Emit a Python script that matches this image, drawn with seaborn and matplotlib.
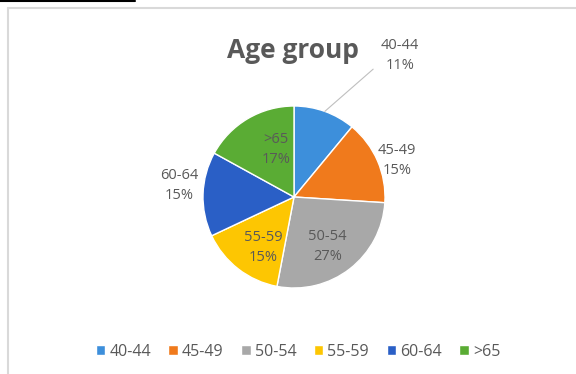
import numpy as np
import matplotlib
matplotlib.use("Agg")
import matplotlib.pyplot as plt
from matplotlib.lines import Line2D
import seaborn as sns

groups = ["40-44", "45-49", "50-54", "55-59", "60-64", ">65"]
shares = [11, 15, 27, 15, 15, 17]
colors = ["#3d8fdb", "#f07a1c", "#a8a8a8", "#fdc602", "#2a5fc6", "#5aac34"]

# label placement per slice: (radius factor, angle tweak in degrees)
label_pos = [(1.94, -17), (1.2, -4), (0.66, -4), (0.65, 6), (1.27, -4), (0.56, -10)]

sns.set_style("white")
plt.rcParams["font.family"] = ["Open Sans", "DejaVu Sans"]
text_color = "#595959"

W, H = 576, 374
fig = plt.figure(figsize=(W / 100, H / 100), dpi=100)

cx, cy, r = 294, 197, 91
ax = fig.add_axes([(cx - r) / W, (H - cy - r) / H, 2 * r / W, 2 * r / H])
wedges, _ = ax.pie(shares, colors=colors, startangle=90, counterclock=False,
                   wedgeprops=dict(edgecolor="white", linewidth=1))
ax.set_xlim(-1, 1)
ax.set_ylim(-1, 1)
ax.set_aspect("equal")
ax.axis("off")

for w, g, s, (rf, tweak) in zip(wedges, groups, shares, label_pos):
    mid = np.deg2rad((w.theta1 + w.theta2) / 2)
    ang = mid + np.deg2rad(tweak)
    tx, ty = rf * np.cos(ang), rf * np.sin(ang)
    label = f"{g}\n{s}%"
    if g == "40-44":
        ax.annotate(label, xy=(np.cos(mid), np.sin(mid)), xytext=(tx, ty),
                    ha="center", va="center", fontsize=10.5, color=text_color,
                    linespacing=1.45,
                    arrowprops=dict(arrowstyle="-", color="#bfbfbf", lw=0.8,
                                    relpos=(0, 0.3), shrinkA=4, shrinkB=0))
    else:
        ax.text(tx, ty, label, ha="center", va="center", fontsize=10.5,
                color=text_color, linespacing=1.45)

fig.text(293 / W, 1 - 50 / H, "Age group", ha="center", va="center",
         fontsize=19, fontweight="bold", color=text_color)

handles = [plt.Rectangle((0, 0), 1, 1, facecolor=c) for c in colors]
fig.legend(handles, groups, loc="center", bbox_to_anchor=(298 / W, 1 - 352 / H),
           ncol=6, frameon=False, fontsize=11.5, handlelength=0.6, handleheight=0.6,
           handletextpad=0.25, columnspacing=1.1, labelcolor=text_color)

# chart frame and clipped caption underline
fig.add_artist(Line2D([8 / W, 8 / W], [0, 1 - 8 / H], color="#d9d9d9", lw=1.5))
fig.add_artist(Line2D([8 / W, 1], [1 - 8 / H, 1 - 8 / H], color="#d9d9d9", lw=1.5))
fig.add_artist(Line2D([0, 135 / W], [1 - 1 / H, 1 - 1 / H], color="black", lw=1.5))

fig.savefig("out.png", dpi=100)
